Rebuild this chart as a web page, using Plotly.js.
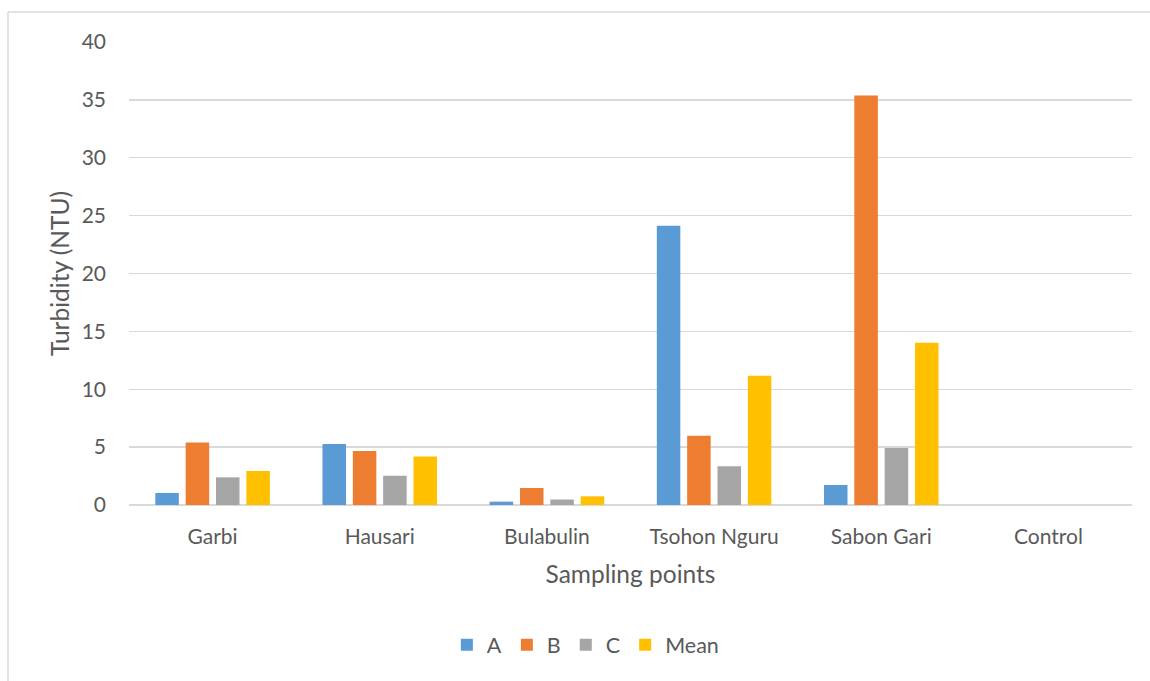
<!DOCTYPE html>
<html>
<head>
<meta charset="utf-8">
<script src="https://cdn.plot.ly/plotly-3.0.1.min.js"></script>
<style>
  html, body { margin: 0; padding: 0; background: #ffffff; }
  #chart { width: 1150px; height: 681px; }
</style>
</head>
<body>
<div id="chart"></div>
<script>
// Sampling points and turbidity readings (NTU)
const sites = ["Garbi", "Hausari", "Bulabulin", "Tsohon Nguru", "Sabon Gari", "Control"];
const seriesA = [1.04, 5.27, 0.29, 24.13, 1.73, 0];
const seriesB = [5.41, 4.66, 1.47, 5.99, 35.38, 0];
const seriesC = [2.39, 2.53, 0.47, 3.34, 4.92, 0];
const seriesMean = [2.94, 4.18, 0.75, 11.17, 14.02, 0];
const seriesNames = ["A", "B", "C", "Mean"];
const yTicks = [0, 5, 10, 15, 20, 25, 30, 35, 40];

const colors = ["#5b9bd5", "#ed7d31", "#a5a5a5", "#ffc000"];
const values = [seriesA, seriesB, seriesC, seriesMean];
const textColor = "#595959";
const fontFamily = "Lato, 'Open Sans', sans-serif";

const traces = values.map((v, i) => ({
  type: "bar",
  name: seriesNames[i],
  x: sites,
  y: v,
  marker: { color: colors[i], line: { width: 0 } },
  hoverinfo: "x+y+name"
}));

const layout = {
  width: 1150,
  height: 681,
  paper_bgcolor: "#ffffff",
  plot_bgcolor: "#ffffff",
  margin: { l: 129, r: 18, t: 42, b: 176 },
  barmode: "group",
  bargap: 0.274,
  bargroupgap: 0.225,
  font: { family: fontFamily, color: textColor, size: 21 },
  showlegend: true,
  legend: {
    orientation: "h",
    x: 0.455, xanchor: "center",
    y: -0.302, yanchor: "middle",
    font: { size: 21.5, color: textColor },
    itemwidth: 30,
    tracegroupgap: 0,
    traceorder: "normal"
  },
  xaxis: {
    type: "category",
    showgrid: false,
    showline: false,
    zeroline: false,
    ticks: "",
    ticklabelstandoff: 17,
    tickfont: { size: 21, color: textColor },
    title: { text: "Sampling points", font: { size: 24.5, color: textColor }, standoff: 18 }
  },
  yaxis: {
    range: [0, 40],
    tickvals: yTicks,
    ticktext: yTicks.map(String),
    showgrid: true,
    gridcolor: "#d9d9d9",
    gridwidth: 1.3,
    zeroline: true,
    zerolinecolor: "#d9d9d9",
    zerolinewidth: 1.3,
    showline: false,
    ticks: "",
    ticklabelstandoff: 22,
    tickfont: { size: 21, color: textColor },
    title: { text: "Turbidity (NTU)", font: { size: 24.5, color: textColor }, standoff: 5 }
  },
  shapes: [
    // outer chart frame (left and top edges)
    { type: "line", xref: "paper", yref: "paper",
      x0: -121 / 1003, x1: -121 / 1003, y0: 1 + 30 / 463, y1: -176 / 463,
      line: { color: "#d9d9d9", width: 1.5 } },
    { type: "line", xref: "paper", yref: "paper",
      x0: -121 / 1003, x1: 1 + 18 / 1003, y0: 1 + 30 / 463, y1: 1 + 30 / 463,
      line: { color: "#d9d9d9", width: 1.5 } }
  ]
};

Plotly.newPlot("chart", traces, layout, { displayModeBar: false, staticPlot: true });
</script>
</body>
</html>
